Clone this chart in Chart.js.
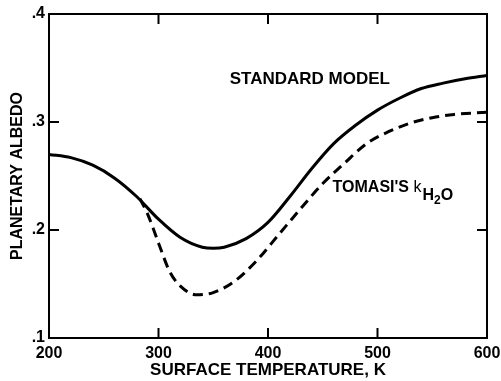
<!DOCTYPE html>
<html lang="en">
<head>
  <meta charset="UTF-8" />
  <title>Planetary albedo vs surface temperature</title>
  <script src="https://cdn.jsdelivr.net/npm/chart.js"></script>
  <style>
    html, body {
      margin: 0;
      padding: 0;
      background: #fff;
    }
    #wrap {
      width: 501px;
      height: 381px;
    }
  </style>
</head>
<body>
  <div id="wrap"><canvas id="albedoChart"></canvas></div>

  <script>
    // surface temperature (K) and planetary albedo
    const stdTemps   = [200, 220, 240, 260, 280, 300, 320, 340, 350, 360, 380, 400, 420, 440, 460, 480, 500, 520, 540, 560, 580, 600];
    const stdAlbedo  = [.270, .267, .260, .248, .231, .210, .193, .184, .183, .184, .192, .207, .231, .257, .280, .297, .311, .322, .331, .336, .340, .343];
    const tomTemps   = [283, 290, 300, 310, 320, 335, 350, 370, 390, 410, 430, 450, 470, 490, 510, 530, 550, 570, 600];
    const tomAlbedo  = [.229, .215, .188, .162, .148, .140, .142, .153, .172, .196, .220, .243, .262, .280, .291, .299, .304, .307, .309];
    const xTicks = [200, 300, 400, 500, 600];
    const yTicks = [.1, .2, .3, .4];

    const FONT = '"Liberation Sans", Arial, Helvetica, sans-serif';

    const toPoints = (xs, ys) => xs.map((x, i) => ({ x: x, y: ys[i] }));

    // box frame with inward tick marks on all four sides, plus curve labels
    const framePlugin = {
      id: 'frame',
      afterDraw(chart) {
        const { ctx, chartArea: a, scales } = chart;
        const tl = 10;
        ctx.save();
        ctx.strokeStyle = '#000';
        ctx.lineWidth = 2;
        ctx.strokeRect(a.left, a.top, a.right - a.left, a.bottom - a.top);
        ctx.beginPath();
        xTicks.forEach(v => {
          const px = scales.x.getPixelForValue(v);
          ctx.moveTo(px, a.bottom); ctx.lineTo(px, a.bottom - tl);
          ctx.moveTo(px, a.top); ctx.lineTo(px, a.top + tl);
        });
        yTicks.forEach(v => {
          const py = scales.y.getPixelForValue(v);
          ctx.moveTo(a.left, py); ctx.lineTo(a.left + tl, py);
          ctx.moveTo(a.right, py); ctx.lineTo(a.right - tl, py);
        });
        ctx.stroke();

        ctx.fillStyle = '#000';
        ctx.textBaseline = 'alphabetic';
        ctx.font = 'bold 17px ' + FONT;
        ctx.fillText('STANDARD MODEL', scales.x.getPixelForValue(365), scales.y.getPixelForValue(.335));

        let tx = scales.x.getPixelForValue(459);
        let ty = scales.y.getPixelForValue(.235);
        ctx.font = 'bold 16px ' + FONT;
        ctx.fillText("TOMASI'S ", tx, ty);
        tx += ctx.measureText("TOMASI'S ").width;
        ctx.font = '16px ' + FONT;
        ctx.fillText('k', tx, ty);
        tx += ctx.measureText('k').width + 1;
        ctx.font = 'bold 16px ' + FONT;
        ctx.fillText('H', tx, ty + 8);
        tx += ctx.measureText('H').width;
        ctx.font = 'bold 12px ' + FONT;
        ctx.fillText('2', tx, ty + 12);
        tx += ctx.measureText('2').width;
        ctx.font = 'bold 16px ' + FONT;
        ctx.fillText('O', tx, ty + 8);
        ctx.restore();
      }
    };

    new Chart(document.getElementById('albedoChart'), {
      type: 'line',
      data: {
        datasets: [
          {
            label: 'Standard model',
            data: toPoints(stdTemps, stdAlbedo),
            borderColor: '#000',
            borderWidth: 3,
            pointRadius: 0,
            cubicInterpolationMode: 'monotone',
            fill: false
          },
          {
            label: "Tomasi's kH2O",
            data: toPoints(tomTemps, tomAlbedo),
            borderColor: '#000',
            borderWidth: 3,
            borderDash: [10, 6],
            pointRadius: 0,
            cubicInterpolationMode: 'monotone',
            fill: false
          }
        ]
      },
      options: {
        responsive: true,
        maintainAspectRatio: false,
        animation: false,
        layout: { padding: { top: 14, right: 14, left: 0, bottom: 0 } },
        plugins: {
          legend: { display: false },
          tooltip: { enabled: false }
        },
        scales: {
          x: {
            type: 'linear',
            min: 200,
            max: 600,
            afterBuildTicks: s => { s.ticks = xTicks.map(v => ({ value: v })); },
            grid: { display: false, drawTicks: false },
            border: { display: false },
            ticks: {
              color: '#000',
              padding: 6,
              maxRotation: 0,
              font: { family: FONT, size: 16, weight: 'bold' }
            },
            title: {
              display: true,
              text: 'SURFACE TEMPERATURE, K',
              color: '#000',
              padding: { top: 0, bottom: 0 },
              font: { family: FONT, size: 17, weight: 'bold' }
            },
            afterFit: s => { s.height = 43; s.paddingLeft = 0; s.paddingRight = 0; }
          },
          y: {
            min: .1,
            max: .4,
            afterBuildTicks: s => { s.ticks = yTicks.map(v => ({ value: v })); },
            grid: { display: false, drawTicks: false },
            border: { display: false },
            ticks: {
              color: '#000',
              padding: 4,
              font: { family: FONT, size: 16, weight: 'bold' },
              callback: v => '.' + Math.round(v * 10)
            },
            title: {
              display: true,
              text: 'PLANETARY ALBEDO',
              color: '#000',
              padding: { top: 8, bottom: 0 },
              font: { family: FONT, size: 16, weight: 'bold' }
            },
            afterFit: s => { s.width = 49; s.paddingTop = 0; s.paddingBottom = 0; }
          }
        }
      },
      plugins: [framePlugin]
    });
  </script>
</body>
</html>
